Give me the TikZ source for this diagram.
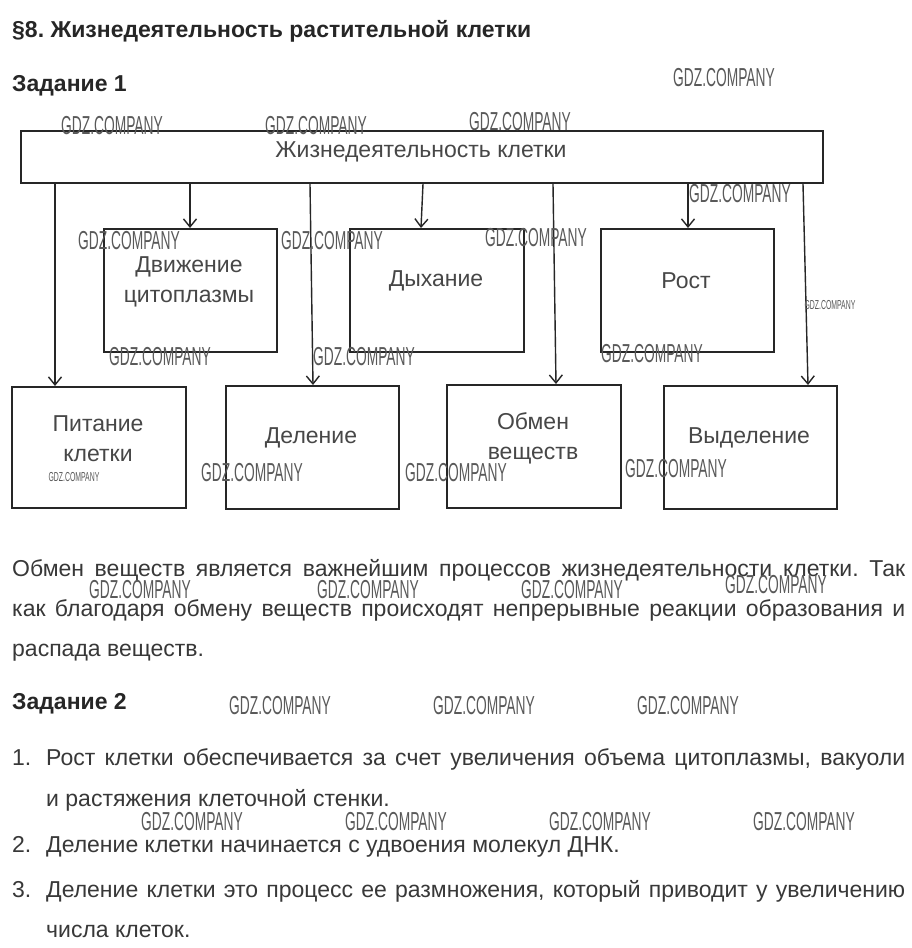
\documentclass[tikz,border=0pt]{standalone}
\usepackage{fontspec}
\setmainfont{Liberation Sans}
\newfontfamily\wmfam{Liberation Sans}[FakeStretch=0.53]
\usetikzlibrary{arrows.meta}
\frenchspacing
\newcommand{\bodyf}{\fontsize{23}{27}\selectfont}
\newcommand{\boxf}{\fontsize{23}{30}\selectfont}
\newcommand{\headf}{\fontsize{23}{27}\selectfont\bfseries}
\tikzset{
  x=1pt, y=-1pt,
  box/.style={draw=black!85, line width=2pt, inner sep=0pt, anchor=north west},
  lbl/.style={font=\boxf, text=black!72, align=center, inner sep=0pt},
  arr/.style={line width=1.4pt, draw=black!85, -{Straight Barb[length=8pt,width=13pt,line width=1.4pt]}},
  wm/.style={font=\wmfam\fontsize{26}{26}\selectfont, text=black!65, inner sep=0pt},
  wms/.style={font=\wmfam\fontsize{13}{13}\selectfont, text=black!65, inner sep=0pt},
  body/.style={anchor=base west, inner sep=0pt, font=\bodyf, text=black!78},
  head/.style={anchor=base west, inner sep=0pt, font=\headf, text=black!85},
}
\begin{document}
\begin{tikzpicture}
\useasboundingbox[fill=white] (0,0) rectangle (912,948);
% headings
\node[head] (title) at (12,37) {§8. Жизнедеятельность растительной клетки};
\node[head] (z1) at (12,91) {Задание 1};
% top box
\node[box, minimum width=802pt, minimum height=52pt] (top) at (20,130) {};
\node[lbl] (toplbl) at (421,152) {Жизнедеятельность клетки};
% middle row
\node[box, minimum width=173pt, minimum height=123pt] (dv) at (103,228) {};
\node[lbl] (dvl) at (189,282) {Движение\\цитоплазмы};
\node[box, minimum width=174pt, minimum height=123pt] (dy) at (349,228) {};
\node[lbl] (dyl) at (436,281) {Дыхание};
\node[box, minimum width=173pt, minimum height=123pt] (ro) at (600,228) {};
\node[lbl] (rol) at (686,281) {Рост};
% bottom row
\node[box, minimum width=174pt, minimum height=121pt] (pi) at (11,386) {};
\node[lbl] (pil) at (98,439) {Питание\\клетки};
\node[box, minimum width=173pt, minimum height=123pt] (de) at (225,385) {};
\node[lbl] (del) at (311,438) {Деление};
\node[box, minimum width=174pt, minimum height=123pt] (ob) at (446,384) {};
\node[lbl] (obl) at (533,438) {Обмен\\веществ};
\node[box, minimum width=173pt, minimum height=123pt] (vy) at (663,385) {};
\node[lbl] (vyl) at (749,438) {Выделение};
% arrows
\coordinate (a1) at (55,0);  \coordinate (b1) at (55,0);
\coordinate (a2) at (190,0); \coordinate (b2) at (190,0);
\coordinate (a3) at (310,0); \coordinate (b3) at (313,0);
\coordinate (a4) at (423,0); \coordinate (b4) at (421,0);
\coordinate (a5) at (553,0); \coordinate (b5) at (556,0);
\coordinate (a6) at (688,0); \coordinate (b6) at (688,0);
\coordinate (a7) at (803,0); \coordinate (b7) at (808,0);
\draw[arr] (top.south -| a1) -- (pi.north -| b1);
\draw[arr] (top.south -| a2) -- (dv.north -| b2);
\draw[arr] (top.south -| a3) -- (de.north -| b3);
\draw[arr] (top.south -| a4) -- (dy.north -| b4);
\draw[arr] (top.south -| a5) -- (ob.north -| b5);
\draw[arr] (top.south -| a6) -- (ro.north -| b6);
\draw[arr] (top.south -| a7) -- (vy.north -| b7);
% paragraph
\node[body] (p1) at (12,576) {\makebox[893pt][s]{Обмен веществ является важнейшим процессов жизнедеятельности клетки. Так}};
\node[body] (p2) at (12,616) {\makebox[893pt][s]{как благодаря обмену веществ происходят непрерывные реакции образования и}};
\node[body] (p3) at (12,656) {распада веществ.};
\node[head] (z2) at (12,709) {Задание 2};
\node[body] (n1) at (12,765) {1.};
\node[body] (l1) at (46,765) {\makebox[859pt][s]{Рост клетки обеспечивается за счет увеличения объема цитоплазмы, вакуоли}};
\node[body] (l1b) at (46,806) {и растяжения клеточной стенки.};
\node[body] (n2) at (12,852) {2.};
\node[body] (l2) at (46,852) {Деление клетки начинается с удвоения молекул ДНК.};
\node[body] (n3) at (12,897) {3.};
\node[body] (l3) at (46,897) {\makebox[859pt][s]{Деление клетки это процесс ее размножения, который приводит у увеличению}};
\node[body] (l3b) at (46,937) {числа клеток.};
% watermarks
\node[wm] (w1) at (724,78) {GDZ.COMPANY};
\node[wm] (w2) at (112,126) {GDZ.COMPANY};
\node[wm] (w3) at (316,126) {GDZ.COMPANY};
\node[wm] (w4) at (520,122) {GDZ.COMPANY};
\node[wm] (w5) at (740,194) {GDZ.COMPANY};
\node[wm] (w6) at (129,241) {GDZ.COMPANY};
\node[wm] (w7) at (332,241) {GDZ.COMPANY};
\node[wm] (w8) at (536,238) {GDZ.COMPANY};
\node[wms] (w9) at (830,305) {GDZ.COMPANY};
\node[wm] (w10) at (160,357) {GDZ.COMPANY};
\node[wm] (w11) at (364,357) {GDZ.COMPANY};
\node[wm] (w12) at (652,354) {GDZ.COMPANY};
\node[wms] (w13) at (74,477) {GDZ.COMPANY};
\node[wm] (w14) at (252,473) {GDZ.COMPANY};
\node[wm] (w15) at (456,473) {GDZ.COMPANY};
\node[wm] (w16) at (676,469) {GDZ.COMPANY};
\node[wm] (w17) at (140,590) {GDZ.COMPANY};
\node[wm] (w18) at (368,590) {GDZ.COMPANY};
\node[wm] (w19) at (572,590) {GDZ.COMPANY};
\node[wm] (w20) at (776,585) {GDZ.COMPANY};
\node[wm] (w21) at (280,706) {GDZ.COMPANY};
\node[wm] (w22) at (484,706) {GDZ.COMPANY};
\node[wm] (w23) at (688,706) {GDZ.COMPANY};
\node[wm] (w24) at (192,822) {GDZ.COMPANY};
\node[wm] (w25) at (396,822) {GDZ.COMPANY};
\node[wm] (w26) at (600,822) {GDZ.COMPANY};
\node[wm] (w27) at (804,822) {GDZ.COMPANY};
\end{tikzpicture}
\end{document}
